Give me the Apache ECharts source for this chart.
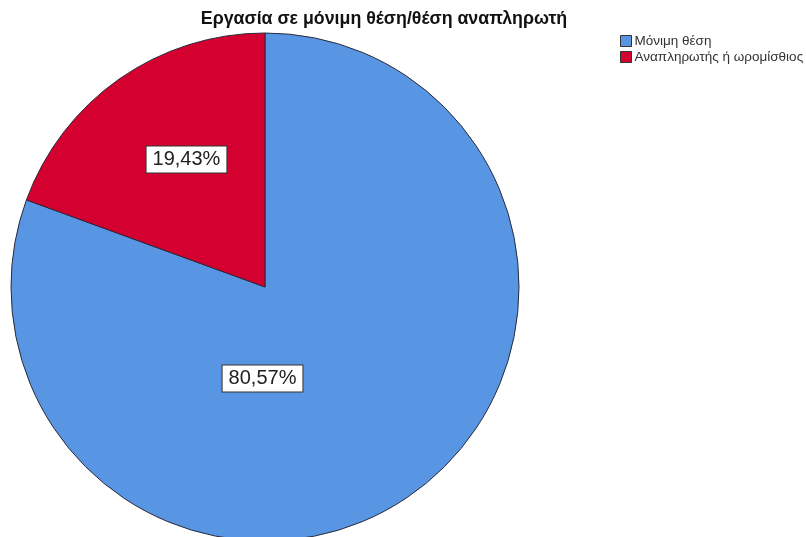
<!DOCTYPE html>
<html>
<head>
<meta charset="utf-8">
<script src="https://cdn.jsdelivr.net/npm/echarts@6/dist/echarts.min.js"></script>
<style>
html,body{margin:0;padding:0;background:#fff;}
#chart{width:806px;height:537px;}
</style>
</head>
<body>
<div id="chart"></div>
<script>
// Employment status: permanent post vs. substitute / hourly-paid
const categories = ['Μόνιμη θέση', 'Αναπληρωτής ή ωρομίσθιος'];
const shares = [80.57, 19.43];
const sliceColors = ['#5896e3', '#d40030'];
// nudge each percentage box away from the default mid-angle spot
const labelOffsets = [[-77, -15], [-4, -21]];

const chart = echarts.init(document.getElementById('chart'));
const fmt = v => v.toFixed(2).replace('.', ',') + '%';

chart.setOption({
  animation: false,
  title: {
    text: 'Εργασία σε μόνιμη θέση/θέση αναπληρωτή',
    left: 379, textAlign: 'center', top: 5,
    textStyle: { fontFamily: 'Liberation Sans', fontSize: 17.8, fontWeight: 'bold', color: '#111' }
  },
  legend: {
    orient: 'vertical', left: 615, top: 29,
    icon: 'rect', itemWidth: 11, itemHeight: 11, itemGap: 2,
    itemStyle: { borderColor: '#333', borderWidth: 1 },
    textStyle: { fontFamily: 'Liberation Sans', fontSize: 13.5, color: '#333', padding: [0, 0, 0, -2] },
    data: categories
  },
  series: [{
    type: 'pie',
    center: [265, 287],
    radius: 254,
    startAngle: 90,
    clockwise: true,
    avoidLabelOverlap: false,
    itemStyle: { borderColor: '#2a2a3a', borderWidth: 1 },
    label: {
      position: 'inside',
      formatter: p => fmt(p.value),
      fontFamily: 'Liberation Sans', fontSize: 20, color: '#222',
      backgroundColor: '#fff', borderColor: '#333', borderWidth: 1,
      padding: [4, 6, 2, 6]
    },
    labelLine: { show: false },
    emphasis: { disabled: true },
    data: categories.map((name, i) => ({
      name, value: shares[i],
      itemStyle: { color: sliceColors[i] },
      label: { offset: labelOffsets[i] }
    }))
  }]
});
</script>
</body>
</html>
